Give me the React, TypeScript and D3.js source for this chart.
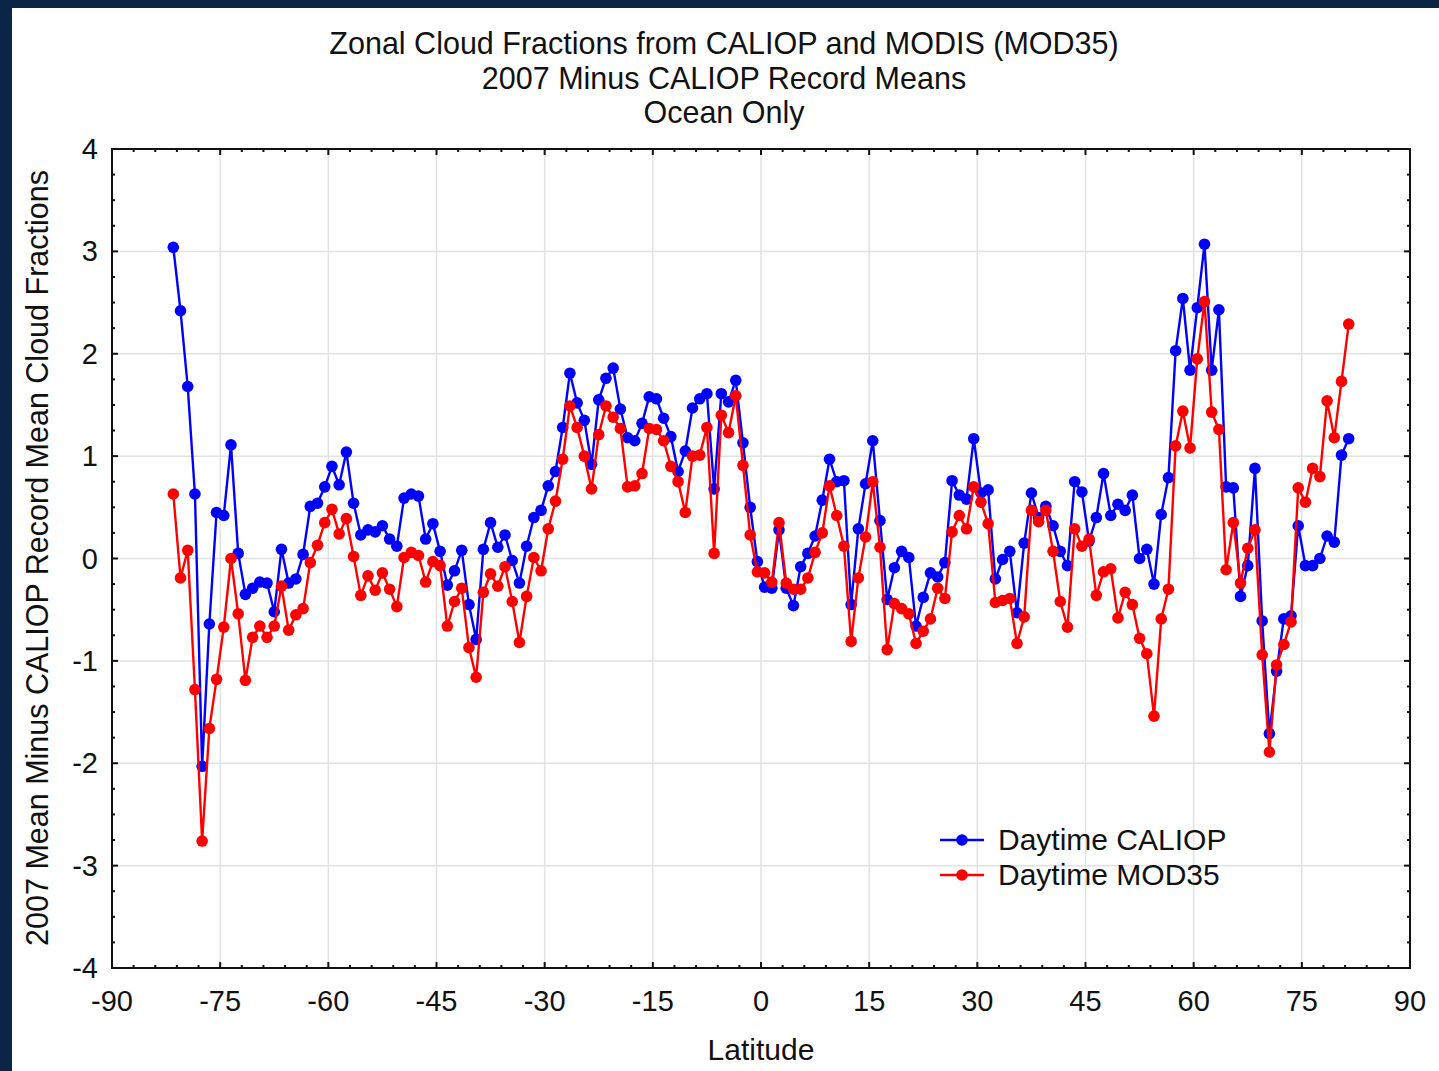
import * as d3 from "d3";

const latitudes = d3.range(164).map((i) => -81.5 + i);

const caliop = [
  3.04, 2.42, 1.68, 0.63, -2.03, -0.64, 0.45, 0.42, 1.11, 0.05,
  -0.35, -0.29, -0.23, -0.24, -0.52, 0.09, -0.24, -0.2, 0.04, 0.51,
  0.54, 0.7, 0.9, 0.72, 1.04, 0.54, 0.23, 0.28, 0.26, 0.32,
  0.19, 0.12, 0.59, 0.63, 0.61, 0.19, 0.34, 0.07, -0.26, -0.12,
  0.08, -0.45, -0.79, 0.09, 0.35, 0.11, 0.23, -0.02, -0.24, 0.12,
  0.4, 0.47, 0.71, 0.85, 1.28, 1.81, 1.52, 1.35, 0.92, 1.55,
  1.76, 1.86, 1.46, 1.18, 1.15, 1.32, 1.58, 1.56, 1.37, 1.19,
  0.85, 1.05, 1.47, 1.56, 1.61, 0.68, 1.61, 1.53, 1.74, 1.13,
  0.5, -0.03, -0.28, -0.29, 0.28, -0.29, -0.46, -0.08, 0.05, 0.22,
  0.57, 0.97, 0.75, 0.76, -0.45, 0.29, 0.73, 1.15, 0.37, -0.4,
  -0.09, 0.07, 0.01, -0.66, -0.38, -0.14, -0.18, -0.04, 0.76, 0.62,
  0.58, 1.17, 0.64, 0.67, -0.2, -0.01, 0.07, -0.53, 0.15, 0.64,
  0.4, 0.51, 0.32, 0.07, -0.07, 0.75, 0.65, 0.17, 0.4, 0.83,
  0.42, 0.53, 0.47, 0.62, 0.0, 0.09, -0.25, 0.43, 0.79, 2.03,
  2.54, 1.84, 2.45, 3.07, 1.84, 2.43, 0.7, 0.69, -0.37, -0.07,
  0.88, -0.61, -1.71, -1.1, -0.59, -0.56, 0.32, -0.07, -0.07, 0.0,
  0.22, 0.16, 1.01, 1.17,
];

const mod35 = [
  0.63, -0.19, 0.08, -1.28, -2.76, -1.66, -1.18, -0.67, 0.0, -0.54,
  -1.19, -0.77, -0.66, -0.77, -0.66, -0.27, -0.7, -0.55, -0.49, -0.04,
  0.13, 0.35, 0.48, 0.24, 0.39, 0.02, -0.36, -0.17, -0.31, -0.14,
  -0.3, -0.47, 0.01, 0.06, 0.03, -0.23, -0.03, -0.07, -0.66, -0.42,
  -0.29, -0.87, -1.16, -0.33, -0.15, -0.27, -0.08, -0.42, -0.82, -0.37,
  0.01, -0.12, 0.29, 0.56, 0.97, 1.49, 1.28, 1.0, 0.68, 1.21,
  1.49, 1.38, 1.27, 0.7, 0.71, 0.83, 1.27, 1.26, 1.15, 0.9,
  0.75, 0.45, 1.0, 1.01, 1.28, 0.05, 1.4, 1.23, 1.59, 0.91,
  0.23, -0.13, -0.14, -0.23, 0.35, -0.24, -0.3, -0.3, -0.19, 0.06,
  0.25, 0.71, 0.42, 0.12, -0.81, -0.19, 0.21, 0.75, 0.11, -0.89,
  -0.44, -0.49, -0.54, -0.83, -0.71, -0.59, -0.29, -0.39, 0.26, 0.42,
  0.29, 0.7, 0.55, 0.34, -0.43, -0.41, -0.39, -0.83, -0.57, 0.47,
  0.36, 0.47, 0.07, -0.42, -0.67, 0.29, 0.12, 0.19, -0.36, -0.13,
  -0.1, -0.58, -0.33, -0.45, -0.78, -0.93, -1.54, -0.59, -0.3, 1.1,
  1.44, 1.08, 1.95, 2.51, 1.43, 1.26, -0.11, 0.35, -0.24, 0.1,
  0.28, -0.94, -1.89, -1.04, -0.84, -0.62, 0.69, 0.55, 0.88, 0.8,
  1.54, 1.18, 1.73, 2.29,
];

const xTicks = d3.range(-90, 91, 15);
const yTicks = d3.range(-4, 5, 1);
const titleLines = [
  "Zonal Cloud Fractions from CALIOP and MODIS (MOD35)",
  "2007 Minus CALIOP Record Means",
  "Ocean Only",
];
const seriesDefs = [
  { name: "Daytime CALIOP", values: caliop, color: "#0000ff" },
  { name: "Daytime MOD35", values: mod35, color: "#ff0000" },
];

export default function App() {
  const W = 1439;
  const H = 1071;
  const left = 112, right = 1410, top = 149, bottom = 968;
  const x = d3.scaleLinear().domain([-90, 90]).range([left, right]);
  const y = d3.scaleLinear().domain([-4, 4]).range([bottom, top]);
  const line = d3.line<number>().x((_, i) => x(latitudes[i])).y((v) => y(v));
  const font = "'Liberation Sans', Arial, sans-serif";

  return (
    <svg width={W} height={H} style={{ position: "absolute", left: 0, top: 0 }} fontFamily={font}>
      <rect width={W} height={H} fill="#0a2545" />
      <rect x={12} y={8} width={W - 12} height={H - 8} fill="#ffffff" />
      {titleLines.map((t, i) => (
        <text key={t} x={724} y={54 + i * 34.5} textAnchor="middle" fontSize={30.5} fill="#111">
          {t}
        </text>
      ))}
      {xTicks.map((t) => (
        <line key={"gx" + t} x1={x(t)} x2={x(t)} y1={top} y2={bottom} stroke="#e2e2e2" strokeWidth={1.5} />
      ))}
      {yTicks.map((t) => (
        <line key={"gy" + t} x1={left} x2={right} y1={y(t)} y2={y(t)} stroke="#e2e2e2" strokeWidth={1.5} />
      ))}
      <rect x={left} y={top} width={right - left} height={bottom - top} fill="none" stroke="#111" strokeWidth={2} />
      {d3.range(-90, 91, 3).map((t) => (
        <g key={"tx" + t}>
          <line x1={x(t)} x2={x(t)} y1={bottom} y2={bottom - (t % 15 === 0 ? 6 : 3)} stroke="#111" strokeWidth={2} />
          <line x1={x(t)} x2={x(t)} y1={top} y2={top + (t % 15 === 0 ? 6 : 3)} stroke="#111" strokeWidth={2} />
        </g>
      ))}
      {d3.range(-4, 4.01, 0.25).map((t) => (
        <g key={"ty" + t}>
          <line x1={left} x2={left + (t % 1 === 0 ? 6 : 3)} y1={y(t)} y2={y(t)} stroke="#111" strokeWidth={2} />
          <line x1={right} x2={right - (t % 1 === 0 ? 6 : 3)} y1={y(t)} y2={y(t)} stroke="#111" strokeWidth={2} />
        </g>
      ))}
      {xTicks.map((t) => (
        <text key={"lx" + t} x={x(t)} y={1011} textAnchor="middle" fontSize={29} fill="#111">
          {t}
        </text>
      ))}
      {yTicks.map((t) => (
        <text key={"ly" + t} x={98} y={y(t) + 10} textAnchor="end" fontSize={29} fill="#111">
          {t}
        </text>
      ))}
      <text x={761} y={1060} textAnchor="middle" fontSize={30} fill="#111">Latitude</text>
      <text transform="translate(48,558) rotate(-90)" textAnchor="middle" fontSize={30.5} fill="#111">
        2007 Mean Minus CALIOP Record Mean Cloud Fractions
      </text>
      {seriesDefs.map((s) => (
        <g key={s.name}>
          <path d={line(s.values) ?? ""} fill="none" stroke={s.color} strokeWidth={2.4} />
          {s.values.map((v, i) => (
            <circle key={i} cx={x(latitudes[i])} cy={y(v)} r={5.8} fill={s.color} />
          ))}
        </g>
      ))}
      {seriesDefs.map((s, i) => (
        <g key={"lg" + s.name} transform={`translate(940,${840 + i * 35})`}>
          <line x1={0} x2={44} y1={0} y2={0} stroke={s.color} strokeWidth={2.4} />
          <circle cx={22} cy={0} r={5.8} fill={s.color} />
          <text x={58} y={10} fontSize={30} fill="#111">{s.name}</text>
        </g>
      ))}
    </svg>
  );
}
